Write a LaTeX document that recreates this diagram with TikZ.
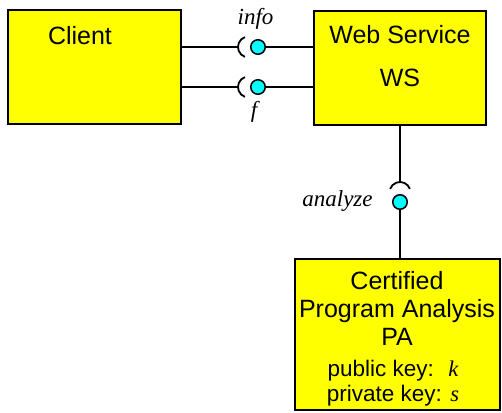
\documentclass[tikz,border=0pt]{standalone}
\usepackage{fontspec}
\setmainfont{Liberation Sans}
\newfontfamily\labelfont{Liberation Serif}
\usetikzlibrary{calc}
\definecolor{ballcyan}{RGB}{0,255,255}
\definecolor{boxyellow}{RGB}{255,255,0}
\tikzset{mybox/.style={draw, line width=1.5pt, fill=boxyellow, inner sep=0pt}}
\tikzset{myboxText/.style={font=\fontsize{25}{28}\selectfont, align=center, inner sep=0pt}}
\tikzset{myboxKeys/.style={font=\fontsize{22.5}{25}\selectfont, align=center, inner sep=0pt}}
\tikzset{myball/.style={draw, circle, line width=1.5pt, fill=ballcyan, minimum size=14.5pt, inner sep=0pt}}
\tikzset{mylabel/.style={font=\labelfont\itshape\fontsize{23}{26}\selectfont, inner sep=0pt, anchor=base}}
\tikzset{mywire/.style={line width=1.5pt}}
\tikzset{mycup/.style={line width=1.8pt}}

\begin{document}
\begin{tikzpicture}[x=1pt, y=1pt]
\useasboundingbox (0,0) rectangle (502,-412);

\node[mybox, minimum width=173pt, minimum height=114pt] (client) at (94.5,-67) {};
\node[mybox, minimum width=172pt, minimum height=114pt] (ws) at (400,-68) {};
\node[mybox, minimum width=205pt, minimum height=151pt] (pa) at (397.5,-334.5) {};

\node[myboxText] (clientName) at (80,-36) {Client};
\node[myboxText] (wsName) at (400,-35) {Web Service};
\node[myboxText] (wsShort) at (400,-78) {WS};
\node[myboxText] (paName) at (397,-308) {Certified\\Program Analysis\\PA};
\node[myboxKeys] (paKeys) at (393,-383) {public key: ~{\labelfont\itshape k}\\private key: {\labelfont\itshape s}};

\coordinate (infoCup) at (248.5,-47);
\node[myball] (infoBall) at (258,-47) {};
\draw[mywire] (client.east |- infoCup) -- ($(infoCup)+(-10.5,0)$);
\draw[mycup] ([shift={(110:10.5)}]infoCup) arc (110:250:10.5);
\draw[mywire] (infoBall) -- (ws.west |- infoBall);

\coordinate (fCup) at (248.5,-87);
\node[myball] (fBall) at (258,-87) {};
\draw[mywire] (client.east |- fCup) -- ($(fCup)+(-10.5,0)$);
\draw[mycup] ([shift={(110:10.5)}]fCup) arc (110:250:10.5);
\draw[mywire] (fBall) -- (ws.west |- fBall);

\coordinate (analyzeCup) at (400,-192.5);
\node[myball] (analyzeBall) at (400,-202) {};
\draw[mywire] (ws.south -| analyzeCup) -- ($(analyzeCup)+(0,10.5)$);
\draw[mycup] ([shift={(20:10.5)}]analyzeCup) arc (20:160:10.5);
\draw[mywire] (analyzeBall) -- (pa.north -| analyzeBall);

\node[mylabel] (infoLabel) at (255.5,-25) {info};
\node[mylabel] (fLabel) at (254,-117) {f};
\node[mylabel] (analyzeLabel) at (337.5,-206) {analyze};

\end{tikzpicture}
\end{document}
